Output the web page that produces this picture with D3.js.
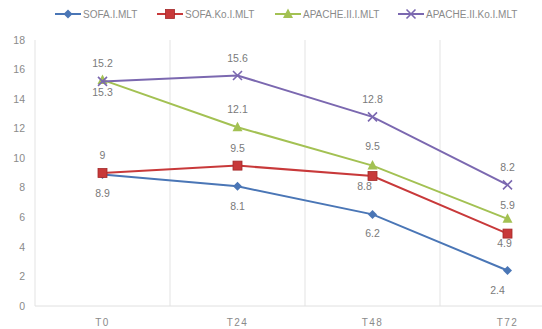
<!DOCTYPE html>
<html><head><meta charset="utf-8">
<script src="https://cdn.jsdelivr.net/npm/d3@7/dist/d3.min.js"></script>
<style>body{margin:0;background:#fff}svg{display:block}</style>
</head><body><svg id="c" width="542" height="329"></svg>
<script>
const categories = ["T0", "T24", "T48", "T72"];
const seriesNames = ["SOFA.I.MLT", "SOFA.Ko.I.MLT", "APACHE.II.I.MLT", "APACHE.II.Ko.I.MLT"];
const sofaI = [8.9, 8.1, 6.2, 2.4];
const sofaKo = [9, 9.5, 8.8, 4.9];
const apacheI = [15.3, 12.1, 9.5, 5.9];
const apacheKo = [15.2, 15.6, 12.8, 8.2];
const yTicks = [0, 2, 4, 6, 8, 10, 12, 14, 16, 18];
// vertical label offsets (negative = above point)
const labelDy = [
  [19, 20, 19, 20],
  [-18, -17, 10, 10],
  [12, -18, -19, -13],
  [-18, -17, -18, -17]
];
const labelDx = [
  [0, 0, 0, -10],
  [0, 0, -8, -3],
  [0, 0, 0, 0],
  [0, 0, 0, 0]
];

const series = [sofaI, sofaKo, apacheI, apacheKo];
const colors = ["#4a76b6", "#c8393a", "#a3c153", "#7b68b0"];
const markers = ["diamond", "square", "triangle", "x"];

const svg = d3.select("#c");
const x = d3.scaleBand().domain(categories).range([35, 575]);
const y = d3.scaleLinear().domain([0, 18]).range([306, 40]);
const cx = c => x(c) + x.bandwidth() / 2;

const bounds = categories.map(c => x(c)).concat([x.range()[1]]);
svg.append("g").selectAll("line").data(bounds).join("line")
  .attr("x1", d => d).attr("x2", d => d)
  .attr("y1", y(18)).attr("y2", y(0))
  .attr("stroke", "#e3e3e3").attr("stroke-width", 1);
svg.append("line").attr("x1", 35).attr("x2", 575).attr("y1", y(0)).attr("y2", y(0))
  .attr("stroke", "#e0e0e0");

svg.append("g").selectAll("text").data(yTicks).join("text")
  .attr("x", 25).attr("y", d => y(d)).attr("dy", "0.35em")
  .attr("text-anchor", "end").attr("font-family", "Liberation Sans, Arial, sans-serif")
  .attr("font-size", 10.5).attr("fill", "#8a8a8a").text(d => d);

svg.append("g").selectAll("text").data(categories).join("text")
  .attr("x", d => cx(d)).attr("y", 322).attr("dy", "0.35em")
  .attr("text-anchor", "middle").attr("font-family", "Liberation Sans, Arial, sans-serif")
  .attr("font-size", 10).attr("letter-spacing", "1.5px").attr("fill", "#8a8a8a").text(d => d);

function drawMarker(g, type, color, px, py) {
  if (type === "diamond") {
    g.append("path").attr("d", `M${px},${py-4.5}L${px+4.5},${py}L${px},${py+4.5}L${px-4.5},${py}Z`).attr("fill", color);
  } else if (type === "square") {
    g.append("rect").attr("x", px-4.5).attr("y", py-4.5).attr("width", 9).attr("height", 9)
      .attr("fill", color).attr("stroke", "#a32a2a").attr("stroke-width", 0.8);
  } else if (type === "triangle") {
    g.append("path").attr("d", `M${px},${py-5.5}L${px+5},${py+4}L${px-5},${py+4}Z`).attr("fill", color);
  } else {
    g.append("path").attr("d", `M${px-4.5},${py-4.5}L${px+4.5},${py+4.5}M${px+4.5},${py-4.5}L${px-4.5},${py+4.5}`)
      .attr("stroke", color).attr("stroke-width", 1.6);
  }
}

const line = d3.line().x((d, i) => cx(categories[i])).y(d => y(d));
series.forEach((vals, si) => {
  const g = svg.append("g");
  g.append("path").datum(vals).attr("d", line).attr("fill", "none")
    .attr("stroke", colors[si]).attr("stroke-width", 2);
  vals.forEach((v, i) => drawMarker(g, markers[si], colors[si], cx(categories[i]), y(v)));
});
series.forEach((vals, si) => {
  svg.append("g").selectAll("text").data(vals).join("text")
    .attr("x", (d, i) => cx(categories[i]) + labelDx[si][i])
    .attr("y", (d, i) => y(d) + labelDy[si][i])
    .attr("dy", "0.35em").attr("text-anchor", "middle")
    .attr("font-family", "Liberation Sans, Arial, sans-serif").attr("font-size", 10.5)
    .attr("fill", "#7a7a7a").text(d => d);
});

const legX = [55, 157, 275, 398];
seriesNames.forEach((n, i) => {
  const g = svg.append("g");
  g.append("line").attr("x1", legX[i]).attr("x2", legX[i] + 26).attr("y1", 14).attr("y2", 14)
    .attr("stroke", colors[i]).attr("stroke-width", 2);
  drawMarker(g, markers[i], colors[i], legX[i] + 13, 14);
  g.append("text").attr("x", legX[i] + 28).attr("y", 14).attr("dy", "0.35em")
    .attr("font-family", "Liberation Sans, Arial, sans-serif").attr("font-size", 10)
    .attr("fill", "#8a8a8a").text(n);
});
</script></body></html>
